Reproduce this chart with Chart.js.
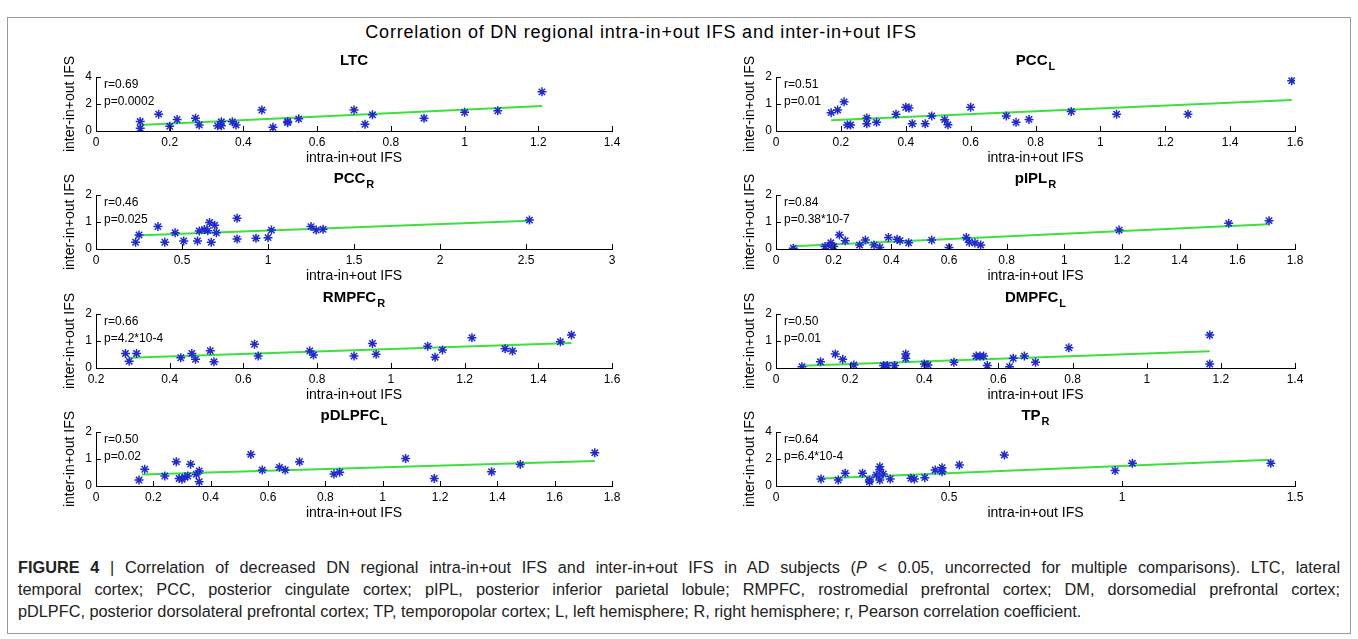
<!DOCTYPE html>
<html lang="en">
<head>
  <meta charset="UTF-8" />
  <title>Figure 4 - DN regional IFS correlation</title>
  <script src="https://cdn.jsdelivr.net/npm/chart.js"></script>
  <style>
    body { margin: 0; background: #fff; font-family: "Liberation Sans", Arial, sans-serif; color: #000; }
    #frame { position: absolute; left: 7px; top: 17px; width: 1344px; height: 617px; border: 1px solid #9a9a9a; box-sizing: border-box; }
    #title { position: absolute; left: 291px; width: 700px; top: 22px; text-align: center; font-size: 18px; letter-spacing: 0.8px; white-space: nowrap; }
    canvas.panel { position: absolute; }
    #caption { position: absolute; left: 18px; top: 556px; width: 1322px; font-size: 16.3px; line-height: 22px; color: #222; white-space: nowrap; }
    #caption .j { text-align: justify; text-align-last: justify; white-space: normal; }
  </style>
</head>
<body>
  <div id="frame"></div>
  <div id="title">Correlation of DN regional intra-in+out IFS and inter-in+out IFS</div>
  <div id="caption">
    <div class="j"><b>FIGURE 4</b> | Correlation of decreased DN regional intra-in+out IFS and inter-in+out IFS in AD subjects (<i>P</i> &lt; 0.05, uncorrected for multiple comparisons). LTC, lateral</div>
    <div class="j">temporal cortex; PCC, posterior cingulate cortex; pIPL, posterior inferior parietal lobule; RMPFC, rostromedial prefrontal cortex; DM, dorsomedial prefrontal cortex;</div>
    <div>pDLPFC, posterior dorsolateral prefrontal cortex; TP, temporopolar cortex; L, left hemisphere; R, right hemisphere; r, Pearson correlation coefficient.</div>
  </div>

  <script>
    // values
    const ltcX = [0.12,0.12,0.17,0.20,0.22,0.27,0.28,0.33,0.34,0.34,0.37,0.38,0.45,0.48,0.52,0.52,0.55,0.70,0.73,0.75,0.89,1.00,1.09,1.21];
    const ltcY = [0.20,0.70,1.25,0.35,0.85,0.95,0.45,0.38,0.38,0.68,0.68,0.45,1.55,0.27,0.62,0.70,0.90,1.55,0.50,1.20,0.95,1.38,1.50,2.90];
    const ltcFitX = [0.12, 1.21];
    const ltcFitY = [0.45, 1.85];

    const pccLX = [0.17,0.19,0.21,0.22,0.23,0.28,0.28,0.31,0.37,0.40,0.41,0.42,0.46,0.48,0.52,0.53,0.60,0.71,0.74,0.78,0.91,1.05,1.27,1.59];
    const pccLY = [0.68,0.78,1.08,0.22,0.22,0.27,0.48,0.32,0.62,0.88,0.85,0.27,0.27,0.56,0.42,0.23,0.88,0.56,0.32,0.43,0.72,0.62,0.62,1.86];
    const pccLFitX = [0.17, 1.59];
    const pccLFitY = [0.40, 1.15];

    const pccRX = [0.23,0.25,0.36,0.40,0.46,0.51,0.59,0.60,0.63,0.65,0.66,0.67,0.69,0.70,0.82,0.82,0.93,1.00,1.02,1.25,1.28,1.32,2.52];
    const pccRY = [0.25,0.52,0.83,0.25,0.60,0.30,0.30,0.67,0.72,0.68,0.98,0.25,0.88,0.60,1.14,0.37,0.40,0.42,0.70,0.83,0.70,0.73,1.07];
    const pccRFitX = [0.23, 2.52];
    const pccRFitY = [0.50, 1.05];

    const piplX = [0.06,0.17,0.19,0.19,0.20,0.22,0.24,0.29,0.31,0.34,0.36,0.39,0.42,0.43,0.46,0.54,0.60,0.66,0.67,0.69,0.71,1.19,1.57,1.71];
    const piplY = [0.03,0.09,0.12,0.23,0.09,0.52,0.31,0.15,0.33,0.15,0.06,0.43,0.36,0.31,0.23,0.33,0.06,0.43,0.25,0.22,0.15,0.70,0.95,1.05];
    const piplFitX = [0.06, 1.71];
    const piplFitY = [0.10, 0.92];

    const rmpfcX = [0.28,0.29,0.31,0.43,0.46,0.47,0.51,0.52,0.63,0.64,0.78,0.79,0.90,0.95,0.96,1.10,1.12,1.14,1.22,1.31,1.33,1.46,1.49];
    const rmpfcY = [0.54,0.25,0.54,0.38,0.54,0.32,0.64,0.23,0.88,0.44,0.63,0.48,0.44,0.91,0.51,0.81,0.40,0.67,1.12,0.71,0.63,0.97,1.22];
    const rmpfcFitX = [0.29, 1.49];
    const rmpfcFitY = [0.38, 0.93];

    const dmpfcX = [0.07,0.12,0.16,0.18,0.21,0.29,0.30,0.32,0.35,0.35,0.40,0.41,0.48,0.54,0.55,0.56,0.57,0.63,0.64,0.67,0.70,0.79,1.17,1.17];
    const dmpfcY = [0.05,0.23,0.52,0.32,0.11,0.09,0.09,0.09,0.52,0.36,0.15,0.11,0.21,0.44,0.44,0.44,0.09,0.05,0.36,0.44,0.21,0.75,1.22,0.15];
    const dmpfcFitX = [0.07, 1.17];
    const dmpfcFitY = [0.08, 0.62];

    const pdlX = [0.15,0.17,0.24,0.28,0.29,0.30,0.31,0.32,0.33,0.35,0.36,0.36,0.54,0.58,0.64,0.66,0.71,0.83,0.85,1.08,1.18,1.38,1.48,1.74];
    const pdlY = [0.22,0.62,0.37,0.90,0.28,0.25,0.33,0.37,0.81,0.43,0.56,0.16,1.17,0.59,0.69,0.59,0.90,0.44,0.51,1.02,0.28,0.53,0.80,1.23];
    const pdlFitX = [0.16, 1.74];
    const pdlFitY = [0.43, 0.93];

    const tpX = [0.13,0.18,0.20,0.25,0.27,0.27,0.29,0.30,0.30,0.30,0.31,0.33,0.39,0.40,0.43,0.46,0.48,0.48,0.53,0.66,0.98,1.03,1.43];
    const tpY = [0.52,0.44,0.94,0.94,0.32,0.44,0.81,1.23,1.43,0.44,0.89,0.52,0.57,0.52,0.62,1.19,1.06,1.36,1.56,2.30,1.14,1.68,1.68];
    const tpFitX = [0.13, 1.43];
    const tpFitY = [0.55, 1.95];

    // tick labels
    const xt14 = [0, 0.2, 0.4, 0.6, 0.8, 1, 1.2, 1.4];
    const xt16 = [0, 0.2, 0.4, 0.6, 0.8, 1, 1.2, 1.4, 1.6];
    const xt18 = [0, 0.2, 0.4, 0.6, 0.8, 1, 1.2, 1.4, 1.6, 1.8];
    const xt3 = [0, 0.5, 1, 1.5, 2, 2.5, 3];
    const xt15 = [0, 0.5, 1, 1.5];
    const xtRm = [0.2, 0.4, 0.6, 0.8, 1, 1.2, 1.4, 1.6];
    const yt2 = [0, 1, 2];
    const yt4 = [0, 2, 4];

    const panels = [
      { name: 'LTC',    sub: '',  x: ltcX,   y: ltcY,   fx: ltcFitX,   fy: ltcFitY,   xt: xt14, yt: yt4, r: 'r=0.69', p: 'p=0.0002',     col: 0, row: 0 },
      { name: 'PCC',    sub: 'L', x: pccLX,  y: pccLY,  fx: pccLFitX,  fy: pccLFitY,  xt: xt16, yt: yt2, r: 'r=0.51', p: 'p=0.01',       col: 1, row: 0 },
      { name: 'PCC',    sub: 'R', x: pccRX,  y: pccRY,  fx: pccRFitX,  fy: pccRFitY,  xt: xt3,  yt: yt2, r: 'r=0.46', p: 'p=0.025',      col: 0, row: 1 },
      { name: 'pIPL',   sub: 'R', x: piplX,  y: piplY,  fx: piplFitX,  fy: piplFitY,  xt: xt18, yt: yt2, r: 'r=0.84', p: 'p=0.38*10-7',  col: 1, row: 1 },
      { name: 'RMPFC',  sub: 'R', x: rmpfcX, y: rmpfcY, fx: rmpfcFitX, fy: rmpfcFitY, xt: xtRm, yt: yt2, r: 'r=0.66', p: 'p=4.2*10-4',   col: 0, row: 2 },
      { name: 'DMPFC',  sub: 'L', x: dmpfcX, y: dmpfcY, fx: dmpfcFitX, fy: dmpfcFitY, xt: xt14, yt: yt2, r: 'r=0.50', p: 'p=0.01',       col: 1, row: 2 },
      { name: 'pDLPFC', sub: 'L', x: pdlX,   y: pdlY,   fx: pdlFitX,   fy: pdlFitY,   xt: xt18, yt: yt2, r: 'r=0.50', p: 'p=0.02',       col: 0, row: 3 },
      { name: 'TP',     sub: 'R', x: tpX,    y: tpY,    fx: tpFitX,    fy: tpFitY,    xt: xt15, yt: yt4, r: 'r=0.64', p: 'p=6.4*10-4',   col: 1, row: 3 }
    ];

    // layout in page pixels
    const plotTop = [77, 195, 314, 432];
    const colLeft = [0, 680];
    const padRight = [68, 65];
    const CW = 680, CH = 130, PAD_TOP = 32, PLOT_H = 54, YW = 34, XH = 38;
    const FONT = '"Liberation Sans", Arial, sans-serif';

    Chart.defaults.font.family = FONT;
    Chart.defaults.color = '#000';

    // inward ticks, r/p text and subscripted titles
    const deco = {
      id: 'deco',
      afterDraw(chart, args, o) {
        const { ctx, chartArea: a, scales: { x, y } } = chart;
        ctx.save();
        ctx.strokeStyle = '#000';
        ctx.lineWidth = 1;
        ctx.beginPath();
        x.ticks.forEach(t => {
          const px = Math.round(x.getPixelForValue(t.value)) + 0.5;
          ctx.moveTo(px, a.bottom);
          ctx.lineTo(px, a.bottom - 5);
        });
        y.ticks.forEach(t => {
          const py = Math.round(y.getPixelForValue(t.value)) + 0.5;
          ctx.moveTo(a.left, py);
          ctx.lineTo(a.left + 5, py);
        });
        ctx.stroke();

        ctx.fillStyle = '#000';
        ctx.textBaseline = 'middle';
        ctx.textAlign = 'left';
        ctx.font = '12px ' + FONT;
        ctx.fillText(o.r, a.left + 8, a.top + 8);
        ctx.fillText(o.p, a.left + 8, a.top + 25);

        ctx.font = 'bold 15px ' + FONT;
        const w1 = ctx.measureText(o.name).width;
        ctx.font = 'bold 11px ' + FONT;
        const w2 = o.sub ? ctx.measureText(o.sub).width + 1 : 0;
        const sx = (a.left + a.right) / 2 - (w1 + w2) / 2;
        const ty = a.top - 16;
        ctx.font = 'bold 15px ' + FONT;
        ctx.fillText(o.name, sx, ty);
        if (o.sub) {
          ctx.font = 'bold 11px ' + FONT;
          ctx.fillText(o.sub, sx + w1 + 1, ty + 6);
        }
        ctx.restore();
      }
    };

    panels.forEach(pn => {
      const cv = document.createElement('canvas');
      cv.className = 'panel';
      cv.width = CW;
      cv.height = CH;
      cv.style.left = colLeft[pn.col] + 'px';
      cv.style.top = (plotTop[pn.row] - PAD_TOP) + 'px';
      document.body.appendChild(cv);

      new Chart(cv, {
        type: 'scatter',
        data: {
          datasets: [
            {
              data: pn.x.map((v, i) => ({ x: v, y: pn.y[i] })),
              pointStyle: 'star',
              pointRadius: 4.5,
              borderWidth: 1.5,
              borderColor: '#1f2bd0',
              backgroundColor: '#1f2bd0'
            },
            {
              type: 'line',
              data: pn.fx.map((v, i) => ({ x: v, y: pn.fy[i] })),
              borderColor: '#3ee03e',
              borderWidth: 2,
              pointRadius: 0,
              fill: false
            }
          ]
        },
        options: {
          responsive: false,
          animation: false,
          events: [],
          layout: { padding: { left: 96 - YW, right: padRight[pn.col], top: PAD_TOP, bottom: CH - PAD_TOP - PLOT_H - XH } },
          plugins: {
            legend: { display: false },
            tooltip: { enabled: false },
            deco: { name: pn.name, sub: pn.sub, r: pn.r, p: pn.p }
          },
          scales: {
            x: {
              type: 'linear',
              min: pn.xt[0],
              max: pn.xt[pn.xt.length - 1],
              afterBuildTicks: s => { s.ticks = pn.xt.map(v => ({ value: v })); },
              afterFit: s => { s.height = XH; },
              grid: { display: false, drawTicks: false },
              border: { display: true, color: '#000', width: 1 },
              ticks: { font: { size: 12 }, color: '#000', padding: 4, maxRotation: 0, autoSkip: false, callback: v => String(v) },
              title: { display: true, text: 'intra-in+out IFS', font: { size: 14 }, color: '#000', padding: { top: 0, bottom: 2 } }
            },
            y: {
              type: 'linear',
              min: pn.yt[0],
              max: pn.yt[pn.yt.length - 1],
              afterBuildTicks: s => { s.ticks = pn.yt.map(v => ({ value: v })); },
              afterFit: s => { s.width = YW; },
              grid: { display: false, drawTicks: false },
              border: { display: true, color: '#000', width: 1 },
              ticks: { font: { size: 12 }, color: '#000', padding: 4, autoSkip: false, callback: v => String(v) },
              title: { display: true, text: 'inter-in+out IFS', font: { size: 14 }, color: '#000', padding: 0 }
            }
          }
        },
        plugins: [deco]
      });
    });
  </script>
</body>
</html>
